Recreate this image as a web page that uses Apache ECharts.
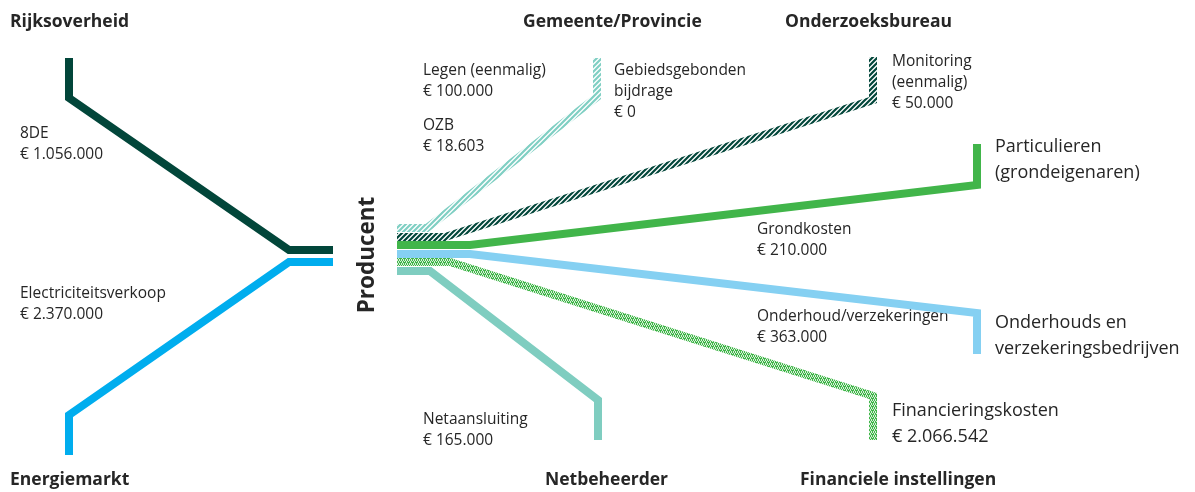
<!DOCTYPE html>
<html>
<head>
<meta charset="utf-8">
<script src="https://cdn.jsdelivr.net/npm/echarts@6/dist/echarts.min.js"></script>
<style>
  html, body { margin: 0; padding: 0; background: #fff; }
  #chart { width: 1195px; height: 492px; }
</style>
</head>
<body>
<div id="chart"></div>
<script>
// flow paths (x, y in diagram units, y counted from top)
var rijksPath = [[69, 58], [69, 98], [289, 250], [333, 250]]
var energiePath = [[69, 455], [69, 415], [289, 262], [333, 262]]
var gemeentePath = [[397, 228], [427, 228], [597, 97], [597, 58]]
var onderzoekPath = [[397, 237], [445, 237], [873, 100], [873, 57]]
var particulierPath = [[397, 245], [470, 245], [977, 185], [977, 144]]
var onderhoudPath = [[397, 254], [470, 254], [977, 313], [977, 354]]
var financieringPath = [[397, 262], [450, 262], [873, 396], [873, 440]]
var netPath = [[397, 271], [430, 271], [598, 400], [598, 440]]

// party names
var headers = ['Rijksoverheid', 'Energiemarkt', 'Producent', 'Gemeente/Provincie', 'Onderzoeksbureau', 'Netbeheerder', 'Financiele instellingen']
// flow labels
var flowLabels = [
  ['8DE', '€ 1.056.000'],
  ['Electriciteitsverkoop', '€ 2.370.000'],
  ['Legen (eenmalig)', '€ 100.000'],
  ['OZB', '€ 18.603'],
  ['Gebiedsgebonden', 'bijdrage', '€ 0'],
  ['Monitoring', '(eenmalig)', '€ 50.000'],
  ['Grondkosten', '€ 210.000'],
  ['Onderhoud/verzekeringen', '€ 363.000'],
  ['Netaansluiting', '€ 165.000']
]
var bigLabels = [
  ['Particulieren', '(grondeigenaren)'],
  ['Onderhouds en', 'verzekeringsbedrijven'],
  ['Financieringskosten', '€ 2.066.542']
]

function stripes(color, size, lw) {
  var c = document.createElement('canvas')
  c.width = size; c.height = size
  var ctx = c.getContext('2d')
  ctx.strokeStyle = color
  ctx.lineWidth = lw
  ctx.beginPath()
  ctx.moveTo(-1, 1); ctx.lineTo(1, -1)
  ctx.moveTo(0, size); ctx.lineTo(size, 0)
  ctx.moveTo(size - 1, size + 1); ctx.lineTo(size + 1, size - 1)
  ctx.stroke()
  return {image: c, repeat: 'repeat'}
}

function dots(color) {
  var grid = ['x.x.', '.x.x', 'xx.x', 'x.x.']
  var c = document.createElement('canvas')
  c.width = 4; c.height = 4
  var ctx = c.getContext('2d')
  ctx.fillStyle = '#d5f0d7'
  ctx.fillRect(0, 0, 4, 4)
  ctx.fillStyle = color
  for (var r = 0; r < 4; r++) {
    for (var k = 0; k < 4; k++) {
      if (grid[r][k] === 'x') ctx.fillRect(k, r, 1, 1)
    }
  }
  return {image: c, repeat: 'repeat'}
}

function flow(data, color) {
  return {
    type: 'line',
    data: data,
    symbol: 'none',
    silent: true,
    animation: false,
    lineStyle: {color: color, width: 8, cap: 'butt', join: 'miter'}
  }
}

var font = '"Open Sans", Lato, sans-serif'
var txt = '#262626'

function textEl(lines, x, y, size, weight, lh) {
  return {
    type: 'text',
    x: x, y: y,
    silent: true,
    style: {
      text: lines.join('\n'),
      font: weight + ' ' + size + 'px ' + font,
      fill: txt,
      lineHeight: lh,
      verticalAlign: 'top'
    }
  }
}

var graphics = [
  textEl([headers[0]], 10, 12, 17.5, 'bold', 20),
  textEl([headers[1]], 10, 470, 17.5, 'bold', 20),
  textEl([headers[3]], 523, 12, 17.5, 'bold', 20),
  textEl([headers[4]], 785, 12, 17.5, 'bold', 20),
  textEl([headers[5]], 545, 470, 17.5, 'bold', 20),
  textEl([headers[6]], 800, 470, 17.5, 'bold', 20),
  {
    type: 'text',
    x: 368, y: 255,
    rotation: Math.PI / 2,
    silent: true,
    style: {
      text: headers[2],
      font: 'bold 22.5px ' + font,
      fill: txt,
      align: 'center',
      verticalAlign: 'middle'
    }
  },
  textEl(flowLabels[0], 20, 123, 15.5, 'normal', 21),
  textEl(flowLabels[1], 20, 283, 15.5, 'normal', 21),
  textEl(flowLabels[2], 423, 60, 15.5, 'normal', 21),
  textEl(flowLabels[3], 423, 115, 15.5, 'normal', 21),
  textEl(flowLabels[4], 614, 60, 15.5, 'normal', 21),
  textEl(flowLabels[5], 892, 51, 15.5, 'normal', 21),
  textEl(flowLabels[6], 757, 219, 15.5, 'normal', 21),
  textEl(flowLabels[7], 757, 306, 15.5, 'normal', 21),
  textEl(flowLabels[8], 423, 409, 15.5, 'normal', 21),
  textEl(bigLabels[0], 995, 134, 18, 'normal', 26),
  textEl(bigLabels[1], 995, 310, 18, 'normal', 26),
  textEl(bigLabels[2], 892, 398, 18, 'normal', 26)
]

var myChart = echarts.init(document.getElementById('chart'))
var option = {
  animation: false,
  grid: {left: 0, right: 0, top: 0, bottom: 0},
  xAxis: {type: 'value', min: 0, max: 1195, show: false},
  yAxis: {type: 'value', min: 0, max: 492, inverse: true, show: false},
  series: [
    flow(rijksPath, '#02463a'),
    flow(energiePath, '#00adee'),
    flow(gemeentePath, stripes('#7fcfc3', 5, 2.2)),
    flow(onderzoekPath, stripes('#02463a', 5, 2.2)),
    flow(particulierPath, '#41b54a'),
    flow(onderhoudPath, '#85d0f2'),
    flow(financieringPath, dots('#41b54a')),
    flow(netPath, '#7fcdc0')
  ],
  graphic: graphics
}
myChart.setOption(option)
</script>
</body>
</html>
